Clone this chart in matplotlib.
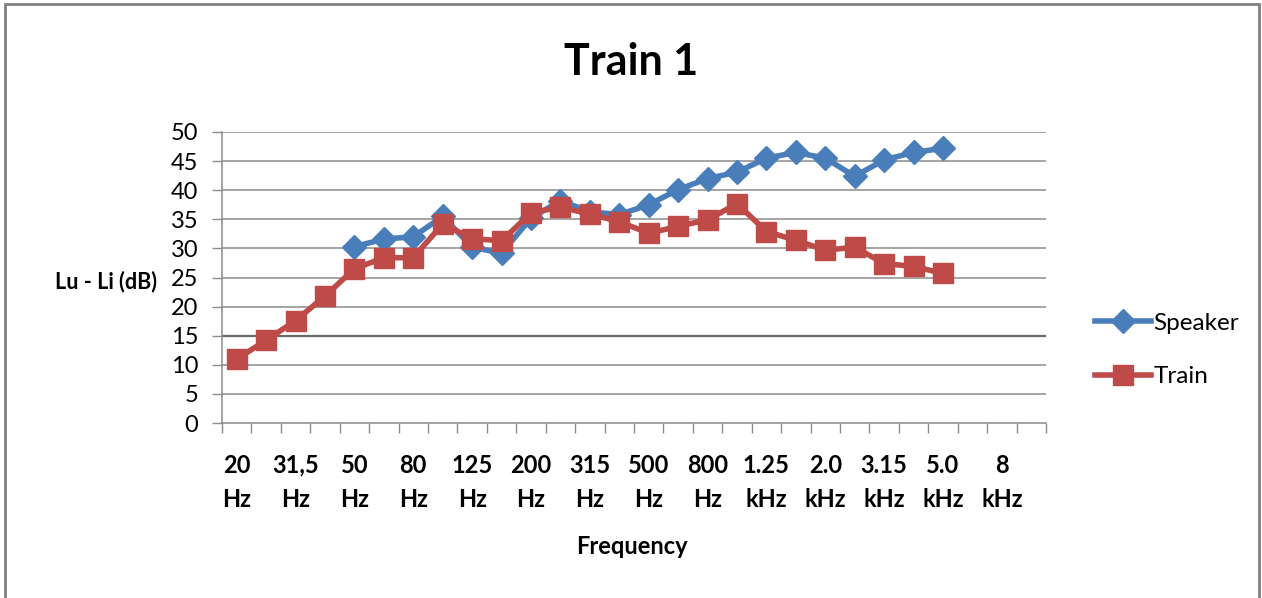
import matplotlib.pyplot as plt
from matplotlib.patches import Rectangle

plt.rcParams['font.family'] = ['Lato', 'DejaVu Sans']

# 1/3-octave bands, labels shown on every other band
freq_labels = ["20\nHz", "25\nHz", "31,5\nHz", "40\nHz", "50\nHz", "63\nHz", "80\nHz",
               "100\nHz", "125\nHz", "160\nHz", "200\nHz", "250\nHz", "315\nHz",
               "400\nHz", "500\nHz", "630\nHz", "800\nHz", "1.0\nkHz", "1.25\nkHz",
               "1.6\nkHz", "2.0\nkHz", "2.5\nkHz", "3.15\nkHz", "4.0\nkHz",
               "5.0\nkHz", "6.3\nkHz", "8\nkHz", "10\nkHz"]

# Speaker starts at 50 Hz (index 4), both end at 5.0 kHz (index 24)
speaker_start = 4
speaker = [30.3, 31.6, 32.0, 35.5, 30.2, 29.2, 35.2, 38.2, 36.3, 35.8, 37.5,
           40.1, 42.0, 43.1, 45.5, 46.5, 45.5, 42.4, 45.2, 46.5, 47.2]
train = [11.0, 14.2, 17.6, 21.8, 26.5, 28.4, 28.4, 34.2, 31.7, 31.3, 36.1, 37.1,
         35.9, 34.6, 32.6, 33.8, 34.9, 37.7, 32.9, 31.4, 29.7, 30.2, 27.4, 26.9, 25.7]

blue = '#4A7EBB'
red = '#BE4B48'
grid_c = '#8C8C8C'

fig = plt.figure(figsize=(12.62, 5.98), dpi=100)
ax = fig.add_axes([222/1262, 1-423/598, (1046-222)/1262, (423-132)/598])

x_sp = list(range(speaker_start, speaker_start + len(speaker)))
x_tr = list(range(len(train)))
ax.plot(x_sp, speaker, color=blue, lw=4, marker='D', markersize=12.5,
        label='Speaker', zorder=3)
ax.plot(x_tr, train, color=red, lw=4, marker='s', markersize=14.5,
        label='Train', zorder=4)

ax.set_xlim(-0.5, len(freq_labels) - 0.5)
ax.set_ylim(0, 50)
ax.set_yticks(range(0, 51, 5))
for v in range(5, 51, 5):
    if v == 15:
        ax.axhline(v, color='#6A6A6A', lw=1.6, zorder=1)
    else:
        ax.axhline(v, color=grid_c, lw=1.1, zorder=1)

ax.set_xticks(range(0, len(freq_labels), 2))
ax.set_xticklabels(freq_labels[::2], fontweight='bold', fontsize=17, linespacing=1.6)
ax.set_xticks([i - 0.5 for i in range(len(freq_labels) + 1)], minor=True)
ax.tick_params(axis='x', which='major', length=0, pad=22)
ax.tick_params(axis='x', which='minor', length=7, width=1, color=grid_c, direction='out')
ax.tick_params(axis='y', length=7, width=1, color=grid_c, labelsize=17, pad=10)

for s in ['top', 'right']:
    ax.spines[s].set_visible(False)
for s in ['left', 'bottom']:
    ax.spines[s].set_color(grid_c)
    ax.spines[s].set_linewidth(1.1)

fig.text(631/1262, 1-62/598, 'Train 1', fontsize=31, fontweight='bold',
         ha='center', va='center')
fig.text(157/1262, 1-282/598, 'Lu - Li (dB)', fontsize=15.5, fontweight='bold',
         ha='right', va='center')
fig.text(632/1262, 1-547/598, 'Frequency', fontsize=17, fontweight='bold',
         ha='center', va='center')

fig.legend(loc='center left', bbox_to_anchor=(1073/1262, 1-350/598), frameon=False,
           fontsize=17.5, labelspacing=1.35, handlelength=2.3, handletextpad=0.1)

fig.patches.append(Rectangle((5/1262, -0.05), (1259-5)/1262, 1.05 - 4/598,
                             transform=fig.transFigure, fill=False,
                             edgecolor='#808080', lw=2))

fig.savefig('out.png', dpi=100)
